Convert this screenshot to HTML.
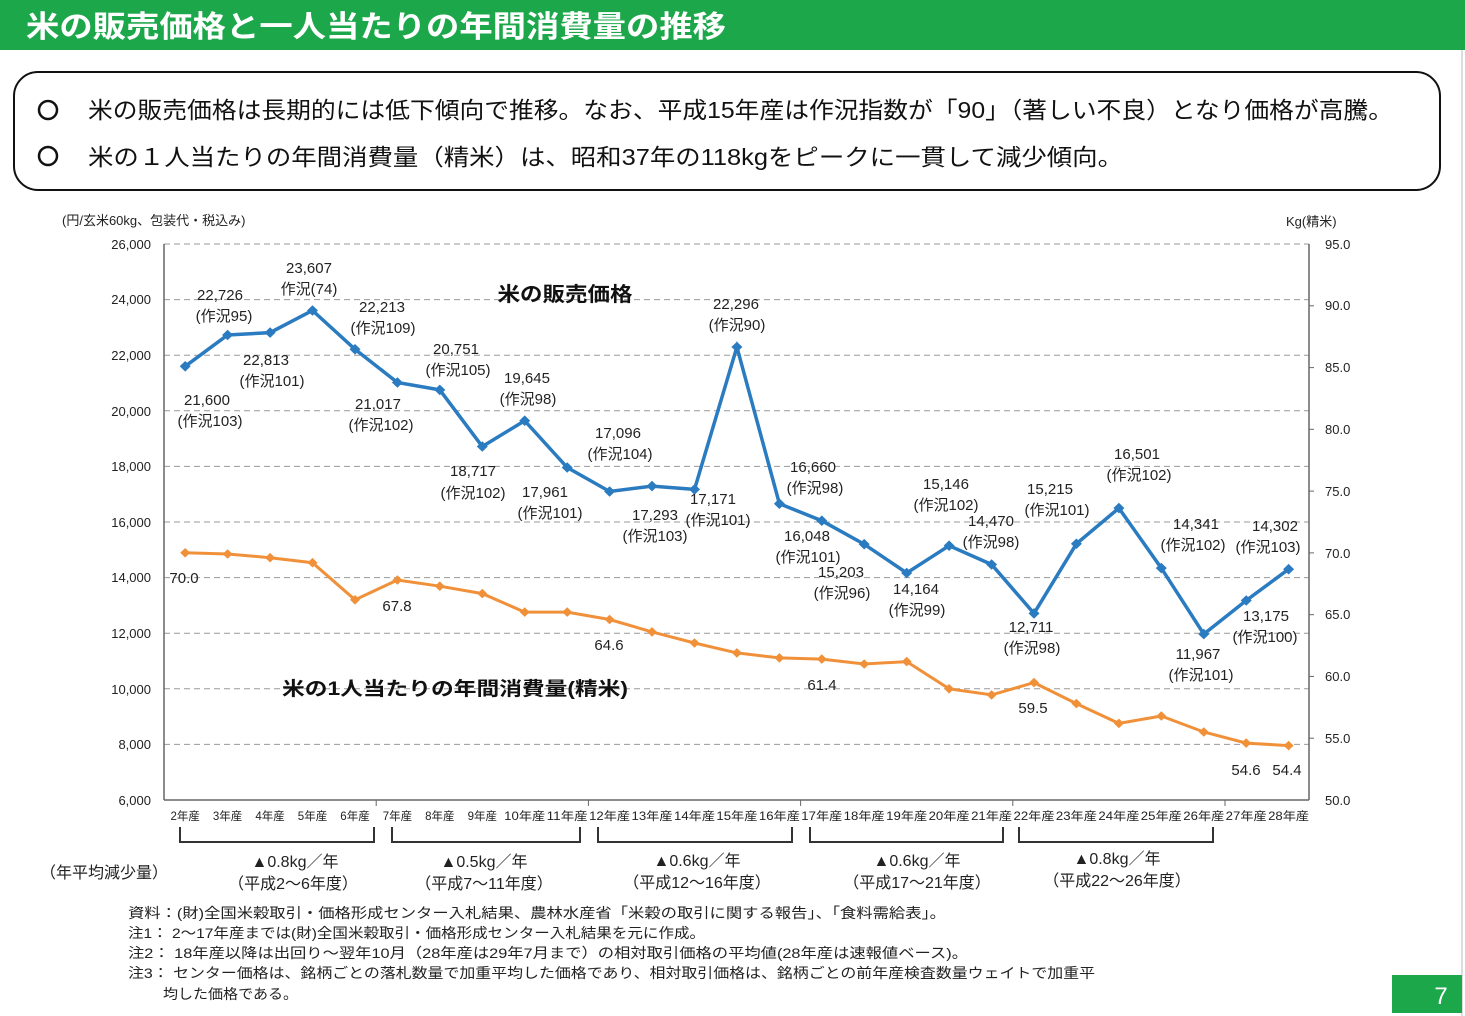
<!DOCTYPE html>
<html><head><meta charset="utf-8"><style>
html,body{margin:0;padding:0;background:#fff;}
svg{display:block;font-family:"Liberation Sans","Noto Sans CJK JP",sans-serif;}
</style></head><body>
<svg width="1465" height="1016" viewBox="0 0 1465 1016" xmlns="http://www.w3.org/2000/svg">
<rect x="0" y="0" width="1465" height="50" fill="#1ca74a"/>
<text x="26" y="37" font-size="30" font-weight="bold" fill="#fff" textLength="700" lengthAdjust="spacingAndGlyphs">米の販売価格と一人当たりの年間消費量の推移</text>
<line x1="1462" y1="50" x2="1462" y2="1016" stroke="#bbb" stroke-width="1"/>
<rect x="14" y="72" width="1426" height="118" rx="24" fill="#fff" stroke="#111" stroke-width="2"/>
<circle cx="48" cy="110" r="9" fill="none" stroke="#111" stroke-width="2.5"/>
<text x="88" y="118" font-size="23" fill="#111" textLength="1305" lengthAdjust="spacingAndGlyphs">米の販売価格は長期的には低下傾向で推移。なお、平成15年産は作況指数が「90」（著しい不良）となり価格が高騰。</text>
<circle cx="48" cy="156" r="9" fill="none" stroke="#111" stroke-width="2.5"/>
<text x="88" y="165" font-size="23" fill="#111" textLength="1035" lengthAdjust="spacingAndGlyphs">米の１人当たりの年間消費量（精米）は、昭和37年の118kgをピークに一貫して減少傾向。</text>

<text x="62" y="225" font-size="13" fill="#222">(円/玄米60kg、包装代・税込み)</text>
<text x="1286" y="226" font-size="13" fill="#222">Kg(精米)</text>

<g stroke="#999" stroke-width="1" stroke-dasharray="6,4">
<line x1="164" y1="244" x2="1309" y2="244"/><line x1="164" y1="299.6" x2="1309" y2="299.6"/>
<line x1="164" y1="355.2" x2="1309" y2="355.2"/><line x1="164" y1="410.8" x2="1309" y2="410.8"/>
<line x1="164" y1="466.4" x2="1309" y2="466.4"/><line x1="164" y1="522" x2="1309" y2="522"/>
<line x1="164" y1="577.6" x2="1309" y2="577.6"/><line x1="164" y1="633.2" x2="1309" y2="633.2"/>
<line x1="164" y1="688.8" x2="1309" y2="688.8"/><line x1="164" y1="744.4" x2="1309" y2="744.4"/>
</g>
<g stroke="#666" stroke-width="1.5" fill="none">
<line x1="164" y1="244" x2="164" y2="800"/><line x1="1309" y1="244" x2="1309" y2="800"/>
<line x1="164" y1="800" x2="1309" y2="800"/>
</g>
<g font-size="13" fill="#222" text-anchor="end">
<text x="151" y="249">26,000</text><text x="151" y="304">24,000</text><text x="151" y="360">22,000</text>
<text x="151" y="416">20,000</text><text x="151" y="471">18,000</text><text x="151" y="527">16,000</text>
<text x="151" y="582">14,000</text><text x="151" y="638">12,000</text><text x="151" y="694">10,000</text>
<text x="151" y="749">8,000</text><text x="151" y="805">6,000</text>
</g>
<g font-size="13" fill="#222">
<text x="1325" y="249">95.0</text><text x="1325" y="310">90.0</text><text x="1325" y="372">85.0</text>
<text x="1325" y="434">80.0</text><text x="1325" y="496">75.0</text><text x="1325" y="558">70.0</text>
<text x="1325" y="619">65.0</text><text x="1325" y="681">60.0</text><text x="1325" y="743">55.0</text>
<text x="1325" y="805">50.0</text>
</g>
<g stroke="#666" stroke-width="1">
<line x1="1309" y1="305.8" x2="1314" y2="305.8"/><line x1="1309" y1="367.6" x2="1314" y2="367.6"/>
<line x1="1309" y1="429.3" x2="1314" y2="429.3"/><line x1="1309" y1="491.1" x2="1314" y2="491.1"/>
<line x1="1309" y1="552.9" x2="1314" y2="552.9"/><line x1="1309" y1="614.7" x2="1314" y2="614.7"/>
<line x1="1309" y1="676.4" x2="1314" y2="676.4"/><line x1="1309" y1="738.2" x2="1314" y2="738.2"/>
<line x1="376.2" y1="800" x2="376.2" y2="806"/><line x1="588.4" y1="800" x2="588.4" y2="806"/>
<line x1="800.6" y1="800" x2="800.6" y2="806"/><line x1="1012.8" y1="800" x2="1012.8" y2="806"/>
<line x1="1225" y1="800" x2="1225" y2="806"/>
</g>

<g font-size="11.5" fill="#222" text-anchor="middle">
<text x="185.2" y="820">2年産</text><text x="227.6" y="820">3年産</text><text x="270.1" y="820">4年産</text>
<text x="312.5" y="820">5年産</text><text x="355" y="820">6年産</text><text x="397.4" y="820">7年産</text>
<text x="439.8" y="820">8年産</text><text x="482.3" y="820">9年産</text>
<text x="524.7" y="820" textLength="41" lengthAdjust="spacingAndGlyphs">10年産</text>
<text x="567.2" y="820" textLength="41" lengthAdjust="spacingAndGlyphs">11年産</text>
<text x="609.6" y="820" textLength="41" lengthAdjust="spacingAndGlyphs">12年産</text>
<text x="652" y="820" textLength="41" lengthAdjust="spacingAndGlyphs">13年産</text>
<text x="694.5" y="820" textLength="41" lengthAdjust="spacingAndGlyphs">14年産</text>
<text x="736.9" y="820" textLength="41" lengthAdjust="spacingAndGlyphs">15年産</text>
<text x="779.4" y="820" textLength="41" lengthAdjust="spacingAndGlyphs">16年産</text>
<text x="821.8" y="820" textLength="41" lengthAdjust="spacingAndGlyphs">17年産</text>
<text x="864.2" y="820" textLength="41" lengthAdjust="spacingAndGlyphs">18年産</text>
<text x="906.7" y="820" textLength="41" lengthAdjust="spacingAndGlyphs">19年産</text>
<text x="949.1" y="820" textLength="41" lengthAdjust="spacingAndGlyphs">20年産</text>
<text x="991.6" y="820" textLength="41" lengthAdjust="spacingAndGlyphs">21年産</text>
<text x="1034" y="820" textLength="41" lengthAdjust="spacingAndGlyphs">22年産</text>
<text x="1076.4" y="820" textLength="41" lengthAdjust="spacingAndGlyphs">23年産</text>
<text x="1118.9" y="820" textLength="41" lengthAdjust="spacingAndGlyphs">24年産</text>
<text x="1161.3" y="820" textLength="41" lengthAdjust="spacingAndGlyphs">25年産</text>
<text x="1203.8" y="820" textLength="41" lengthAdjust="spacingAndGlyphs">26年産</text>
<text x="1246.2" y="820" textLength="41" lengthAdjust="spacingAndGlyphs">27年産</text>
<text x="1288.6" y="820" textLength="41" lengthAdjust="spacingAndGlyphs">28年産</text>
</g>

<g stroke="#333" stroke-width="2" fill="none">
<polyline points="180,827 180,842 374,842 374,827"/>
<polyline points="392,827 392,842 580,842 580,827"/>
<polyline points="598,827 598,842 792,842 792,827"/>
<polyline points="810,827 810,842 1003,842 1003,827"/>
<polyline points="1019,827 1019,842 1213,842 1213,827"/>
</g>
<g font-size="16" fill="#222" text-anchor="middle">
<text x="295" y="867">▲0.8kg／年</text><text x="293" y="889">（平成2～6年度）</text>
<text x="484" y="867">▲0.5kg／年</text><text x="484" y="889">（平成7～11年度）</text>
<text x="697" y="866">▲0.6kg／年</text><text x="697" y="888">（平成12～16年度）</text>
<text x="917" y="866">▲0.6kg／年</text><text x="917" y="888">（平成17～21年度）</text>
<text x="1117" y="864">▲0.8kg／年</text><text x="1117" y="886">（平成22～26年度）</text>
</g>
<text x="40" y="878" font-size="16" fill="#222">（年平均減少量）</text>

<polyline fill="none" stroke="#f0913a" stroke-width="3" points="185.2,552.8 227.6,554 270.1,557.7 312.5,562.7 355,599.8 397.4,580 439.8,586.2 482.3,593.6 524.7,612.1 567.2,612.1 609.6,619.5 652,631.9 694.5,643 736.9,652.9 779.4,657.9 821.8,659.1 864.2,664 906.7,661.6 949.1,688.8 991.6,694.9 1034,682.6 1076.4,703.6 1118.9,723.4 1161.3,716 1203.8,732 1246.2,743.1 1288.6,745.6"/>
<g fill="#f0913a">
<path d="M185.2,548 l5,4.8 l-5,4.8 l-5,-4.8z"/><path d="M227.6,549.2 l5,4.8 l-5,4.8 l-5,-4.8z"/><path d="M270.1,552.9 l5,4.8 l-5,4.8 l-5,-4.8z"/><path d="M312.5,557.9 l5,4.8 l-5,4.8 l-5,-4.8z"/><path d="M355,595 l5,4.8 l-5,4.8 l-5,-4.8z"/><path d="M397.4,575.2 l5,4.8 l-5,4.8 l-5,-4.8z"/><path d="M439.8,581.4 l5,4.8 l-5,4.8 l-5,-4.8z"/><path d="M482.3,588.8 l5,4.8 l-5,4.8 l-5,-4.8z"/><path d="M524.7,607.3 l5,4.8 l-5,4.8 l-5,-4.8z"/><path d="M567.2,607.3 l5,4.8 l-5,4.8 l-5,-4.8z"/><path d="M609.6,614.7 l5,4.8 l-5,4.8 l-5,-4.8z"/><path d="M652,627.1 l5,4.8 l-5,4.8 l-5,-4.8z"/><path d="M694.5,638.2 l5,4.8 l-5,4.8 l-5,-4.8z"/><path d="M736.9,648.1 l5,4.8 l-5,4.8 l-5,-4.8z"/><path d="M779.4,653.1 l5,4.8 l-5,4.8 l-5,-4.8z"/><path d="M821.8,654.3 l5,4.8 l-5,4.8 l-5,-4.8z"/><path d="M864.2,659.2 l5,4.8 l-5,4.8 l-5,-4.8z"/><path d="M906.7,656.8 l5,4.8 l-5,4.8 l-5,-4.8z"/><path d="M949.1,684 l5,4.8 l-5,4.8 l-5,-4.8z"/><path d="M991.6,690.1 l5,4.8 l-5,4.8 l-5,-4.8z"/><path d="M1034,677.8 l5,4.8 l-5,4.8 l-5,-4.8z"/><path d="M1076.4,698.8 l5,4.8 l-5,4.8 l-5,-4.8z"/><path d="M1118.9,718.6 l5,4.8 l-5,4.8 l-5,-4.8z"/><path d="M1161.3,711.2 l5,4.8 l-5,4.8 l-5,-4.8z"/><path d="M1203.8,727.2 l5,4.8 l-5,4.8 l-5,-4.8z"/><path d="M1246.2,738.3 l5,4.8 l-5,4.8 l-5,-4.8z"/><path d="M1288.6,740.8 l5,4.8 l-5,4.8 l-5,-4.8z"/>
</g>

<polyline fill="none" stroke="#2a7bc0" stroke-width="3.5" points="185.2,366.3 227.6,335 270.1,332.6 312.5,310.5 355,349.3 397.4,382.5 439.8,389.9 482.3,446.5 524.7,420.7 567.2,467.5 609.6,491.5 652,486.1 694.5,489.4 736.9,347 779.4,503.7 821.8,520.7 864.2,544.2 906.7,573 949.1,545.7 991.6,564.5 1034,613.4 1076.4,543.8 1118.9,508.1 1161.3,568.1 1203.8,634.1 1246.2,600.5 1288.6,569.2"/>
<g fill="#2a7bc0">
<path d="M185.2,361 l5.5,5.3 l-5.5,5.3 l-5.5,-5.3z"/><path d="M227.6,329.7 l5.5,5.3 l-5.5,5.3 l-5.5,-5.3z"/><path d="M270.1,327.3 l5.5,5.3 l-5.5,5.3 l-5.5,-5.3z"/><path d="M312.5,305.2 l5.5,5.3 l-5.5,5.3 l-5.5,-5.3z"/><path d="M355,344 l5.5,5.3 l-5.5,5.3 l-5.5,-5.3z"/><path d="M397.4,377.2 l5.5,5.3 l-5.5,5.3 l-5.5,-5.3z"/><path d="M439.8,384.6 l5.5,5.3 l-5.5,5.3 l-5.5,-5.3z"/><path d="M482.3,441.2 l5.5,5.3 l-5.5,5.3 l-5.5,-5.3z"/><path d="M524.7,415.4 l5.5,5.3 l-5.5,5.3 l-5.5,-5.3z"/><path d="M567.2,462.2 l5.5,5.3 l-5.5,5.3 l-5.5,-5.3z"/><path d="M609.6,486.2 l5.5,5.3 l-5.5,5.3 l-5.5,-5.3z"/><path d="M652,480.8 l5.5,5.3 l-5.5,5.3 l-5.5,-5.3z"/><path d="M694.5,484.1 l5.5,5.3 l-5.5,5.3 l-5.5,-5.3z"/><path d="M736.9,341.7 l5.5,5.3 l-5.5,5.3 l-5.5,-5.3z"/><path d="M779.4,498.4 l5.5,5.3 l-5.5,5.3 l-5.5,-5.3z"/><path d="M821.8,515.4 l5.5,5.3 l-5.5,5.3 l-5.5,-5.3z"/><path d="M864.2,538.9 l5.5,5.3 l-5.5,5.3 l-5.5,-5.3z"/><path d="M906.7,567.7 l5.5,5.3 l-5.5,5.3 l-5.5,-5.3z"/><path d="M949.1,540.4 l5.5,5.3 l-5.5,5.3 l-5.5,-5.3z"/><path d="M991.6,559.2 l5.5,5.3 l-5.5,5.3 l-5.5,-5.3z"/><path d="M1034,608.1 l5.5,5.3 l-5.5,5.3 l-5.5,-5.3z"/><path d="M1076.4,538.5 l5.5,5.3 l-5.5,5.3 l-5.5,-5.3z"/><path d="M1118.9,502.8 l5.5,5.3 l-5.5,5.3 l-5.5,-5.3z"/><path d="M1161.3,562.8 l5.5,5.3 l-5.5,5.3 l-5.5,-5.3z"/><path d="M1203.8,628.8 l5.5,5.3 l-5.5,5.3 l-5.5,-5.3z"/><path d="M1246.2,595.2 l5.5,5.3 l-5.5,5.3 l-5.5,-5.3z"/><path d="M1288.6,563.9 l5.5,5.3 l-5.5,5.3 l-5.5,-5.3z"/>
</g>

<text x="565" y="301" font-size="20" font-weight="bold" fill="#111" text-anchor="middle" textLength="135" lengthAdjust="spacingAndGlyphs">米の販売価格</text>
<text x="282" y="695" font-size="19" font-weight="bold" fill="#111" textLength="346" lengthAdjust="spacingAndGlyphs">米の1人当たりの年間消費量(精米)</text>

<g font-size="15" fill="#222" text-anchor="middle">
<text x="220" y="300">22,726</text><text x="224" y="321">(作況95)</text>
<text x="309" y="273">23,607</text><text x="309" y="294">作況(74)</text>
<text x="382" y="312">22,213</text><text x="383" y="333">(作況109)</text>
<text x="266" y="365">22,813</text><text x="272" y="386">(作況101)</text>
<text x="207" y="405">21,600</text><text x="210" y="426">(作況103)</text>
<text x="378" y="409">21,017</text><text x="381" y="430">(作況102)</text>
<text x="456" y="354">20,751</text><text x="458" y="375">(作況105)</text>
<text x="527" y="383">19,645</text><text x="528" y="404">(作況98)</text>
<text x="473" y="476">18,717</text><text x="473" y="498">(作況102)</text>
<text x="545" y="497">17,961</text><text x="550" y="518">(作況101)</text>
<text x="618" y="438">17,096</text><text x="620" y="459">(作況104)</text>
<text x="655" y="520">17,293</text><text x="655" y="541">(作況103)</text>
<text x="713" y="504">17,171</text><text x="718" y="525">(作況101)</text>
<text x="736" y="309">22,296</text><text x="737" y="330">(作況90)</text>
<text x="813" y="472">16,660</text><text x="815" y="493">(作況98)</text>
<text x="807" y="541">16,048</text><text x="808" y="562">(作況101)</text>
<text x="841" y="577">15,203</text><text x="842" y="598">(作況96)</text>
<text x="916" y="594">14,164</text><text x="917" y="615">(作況99)</text>
<text x="946" y="489">15,146</text><text x="946" y="510">(作況102)</text>
<text x="991" y="526">14,470</text><text x="991" y="547">(作況98)</text>
<text x="1050" y="494">15,215</text><text x="1057" y="515">(作況101)</text>
<text x="1031" y="632">12,711</text><text x="1032" y="653">(作況98)</text>
<text x="1137" y="459">16,501</text><text x="1139" y="480">(作況102)</text>
<text x="1196" y="529">14,341</text><text x="1193" y="550">(作況102)</text>
<text x="1275" y="531">14,302</text><text x="1268" y="552">(作況103)</text>
<text x="1266" y="621">13,175</text><text x="1265" y="642">(作況100)</text>
<text x="1198" y="659">11,967</text><text x="1201" y="680">(作況101)</text>
</g>
<g font-size="15" fill="#222" text-anchor="middle">
<text x="184" y="583">70.0</text><text x="397" y="611">67.8</text><text x="609" y="650">64.6</text>
<text x="822" y="690">61.4</text><text x="1033" y="713">59.5</text><text x="1246" y="775">54.6</text>
<text x="1287" y="775">54.4</text>
</g>

<g font-size="14" fill="#222">
<text x="128" y="918" textLength="818" lengthAdjust="spacingAndGlyphs">資料：(財)全国米穀取引・価格形成センター入札結果、農林水産省「米穀の取引に関する報告」、「食料需給表」。</text>
<text x="128" y="938" textLength="577" lengthAdjust="spacingAndGlyphs">注1： 2～17年産までは(財)全国米穀取引・価格形成センター入札結果を元に作成。</text>
<text x="128" y="958" textLength="840" lengthAdjust="spacingAndGlyphs">注2： 18年産以降は出回り～翌年10月（28年産は29年7月まで）の相対取引価格の平均値(28年産は速報値ベース)。</text>
<text x="128" y="978" textLength="967" lengthAdjust="spacingAndGlyphs">注3： センター価格は、銘柄ごとの落札数量で加重平均した価格であり、相対取引価格は、銘柄ごとの前年産検査数量ウェイトで加重平</text>
<text x="163" y="999" textLength="135" lengthAdjust="spacingAndGlyphs">均した価格である。</text>
</g>
<rect x="1392" y="975" width="70" height="38" fill="#1ca74a"/>
<text x="1441" y="1004" font-size="24" fill="#fff" text-anchor="middle">7</text>
</svg>
</body></html>
